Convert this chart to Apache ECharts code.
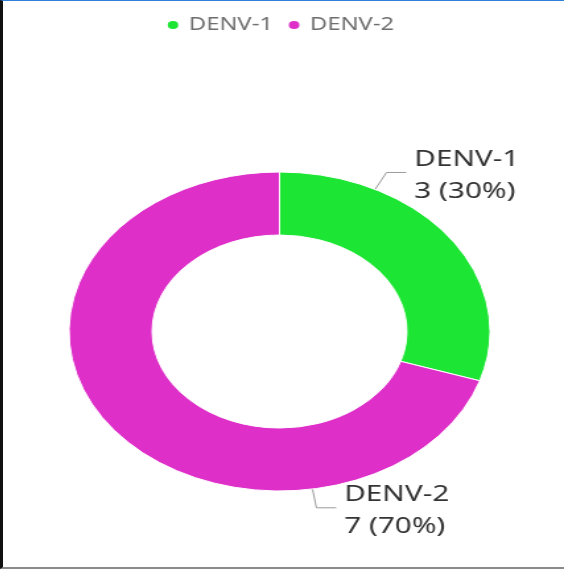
<!DOCTYPE html>
<html>
<head>
<meta charset="utf-8">
<script src="https://cdn.jsdelivr.net/npm/echarts@6/dist/echarts.min.js"></script>
<style>
  html, body { margin: 0; padding: 0; background: #fff; }
  body { width: 564px; height: 570px; position: relative; overflow: hidden; }
  #frame {
    position: absolute; left: 0; top: 0; width: 564px; height: 569px;
    box-sizing: border-box;
    border-left: 3px solid #111;
    border-top: 1px solid #2f7fd8;
    border-bottom: 2px solid #8a8a8a;
  }
  /* the chart is laid out narrow and widened horizontally */
  #chart {
    position: absolute; left: 3px; top: 0; width: 419px; height: 566px;
    transform: scaleX(1.32); transform-origin: 0 0;
  }
</style>
</head>
<body>
<div id="frame"></div>
<div id="chart"></div>
<script>
// Serotype counts
const categories = ['DENV-1', 'DENV-2'];
const counts = [3, 7];
const colors = ['#1de534', '#df2fc9'];

// Ring geometry (chart pixels, before horizontal widening)
const CENTER = [209.5, 331.5];
const R_IN = 96.5;
const R_OUT = 159.5;
const LINE_LEN1 = 19;
const LINE_LEN2 = 15;
const TEXT_GAP = 6;
const TEXT_DROP = 3;

const total = counts.reduce((a, b) => a + b, 0);

// Label lines leave each segment a quarter of the way into its sweep.
function anchorAngle(i) {
  let start = 0;
  for (let k = 0; k < i; k++) start += counts[k];
  return (start + counts[i] / 4) / total * Math.PI * 2;
}

const chart = echarts.init(document.getElementById('chart'), null, { renderer: 'canvas' });

chart.setOption({
  animation: false,
  color: colors,
  legend: {
    top: 11,
    left: 'center',
    icon: 'circle',
    itemWidth: 14,
    itemHeight: 10,
    itemGap: 10,
    textStyle: { fontFamily: 'Noto Sans', fontSize: 18, color: '#6e6e6e' },
    data: categories
  },
  series: [{
    type: 'pie',
    center: CENTER,
    radius: [R_IN, R_OUT],
    startAngle: 90,
    clockwise: true,
    avoidLabelOverlap: false,
    itemStyle: { borderColor: '#fff', borderWidth: 1 },
    label: {
      show: true,
      position: 'outside',
      formatter: '{b}\n{c} ({d}%)',
      fontFamily: 'Noto Sans',
      fontSize: 22.5,
      lineHeight: 32,
      color: '#333'
    },
    labelLine: {
      show: true,
      length: LINE_LEN1,
      length2: LINE_LEN2,
      lineStyle: { color: '#9a9a9a', width: 1 }
    },
    labelLayout: function (params) {
      const a = anchorAngle(params.dataIndex);
      const dx = Math.sin(a), dy = -Math.cos(a);
      const side = dx >= 0 ? 1 : -1;
      const p0 = [CENTER[0] + R_OUT * dx, CENTER[1] + R_OUT * dy];
      const p1 = [CENTER[0] + (R_OUT + LINE_LEN1) * dx, CENTER[1] + (R_OUT + LINE_LEN1) * dy];
      const p2 = [p1[0] + side * LINE_LEN2, p1[1]];
      return {
        x: p2[0] + side * TEXT_GAP,
        y: p2[1] + TEXT_DROP,
        align: side > 0 ? 'left' : 'right',
        verticalAlign: 'middle',
        labelLinePoints: [p0, p1, p2]
      };
    },
    data: categories.map((name, i) => ({ name: name, value: counts[i] }))
  }]
});
</script>
</body>
</html>
